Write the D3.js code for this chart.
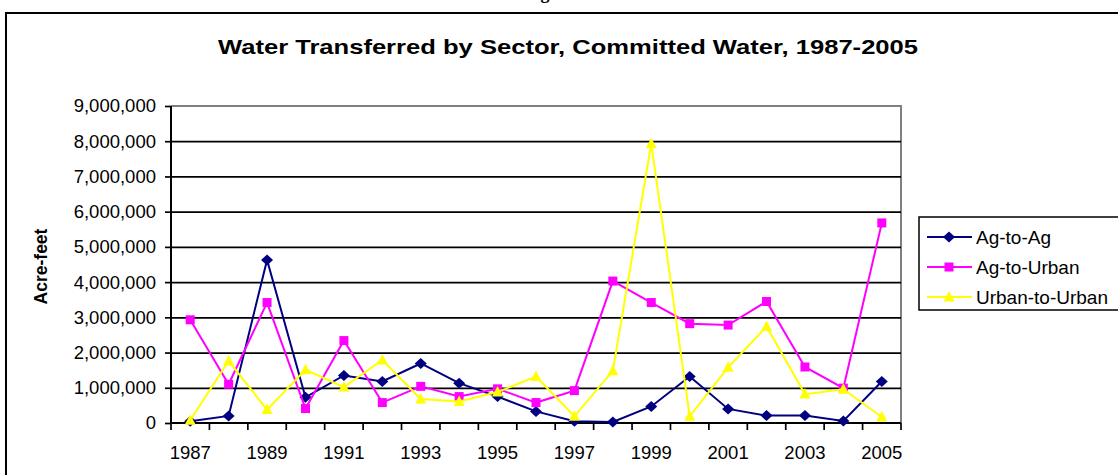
<!DOCTYPE html>
<html lang="en">
<head>
    <meta charset="UTF-8">
    <title>Water Transferred by Sector</title>
    <script src="https://d3js.org/d3.v7.min.js"></script>
    <style>
        body { margin: 0; background: white; }
        text { font-family: "Liberation Sans", Arial, sans-serif; }
    </style>
</head>
<body>
<script>

// years along the bottom
const years = [1987, 1988, 1989, 1990, 1991, 1992, 1993, 1994, 1995, 1996,
               1997, 1998, 1999, 2000, 2001, 2002, 2003, 2004, 2005];

// acre-feet
const agToAg = [50000, 200000, 4630000, 730000, 1350000, 1180000, 1690000, 1130000, 750000, 330000,
                50000, 30000, 470000, 1320000, 400000, 210000, 210000, 60000, 1180000];
const agToUrban = [2930000, 1100000, 3420000, 410000, 2340000, 580000, 1040000, 750000, 970000, 580000,
                   920000, 4030000, 3420000, 2820000, 2780000, 3450000, 1590000, 990000, 5680000];
const urbanToUrban = [80000, 1760000, 380000, 1510000, 1020000, 1790000, 680000, 610000, 880000, 1320000,
                      190000, 1480000, 7930000, 190000, 1580000, 2740000, 820000, 960000, 170000];

const yTicks = [0, 1000000, 2000000, 3000000, 4000000, 5000000, 6000000, 7000000, 8000000, 9000000];
const xLabelYears = [1987, 1989, 1991, 1993, 1995, 1997, 1999, 2001, 2003, 2005];

const seriesNames = ["Ag-to-Ag", "Ag-to-Urban", "Urban-to-Urban"];
const seriesColors = ["#000080", "#FF00FF", "#FFFF00"];
const seriesValues = [agToAg, agToUrban, urbanToUrban];

// excel style markers: wide diamond, square, triangle
function marker(s) {
    if (s === 0) return "M0,-5.5L6,0L0,5.5L-6,0Z";
    if (s === 1) return "M-4.5,-4.5H4.5V4.5H-4.5Z";
    return "M0,-6L5.5,4.5H-5.5Z";
}

const W = 1118, H = 475;
const plot = {left: 171, right: 901, top: 106, bottom: 423};

var svg = d3.select("body")
    .append("svg")
    .attr("width", W)
    .attr("height", H);

// piece of the figure caption above, cut off by the picture
svg.append("text")
    .attr("x", 545)
    .attr("y", -1)
    .attr("text-anchor", "middle")
    .style("font-family", "Liberation Serif, Times New Roman, serif")
    .style("font-weight", "bold")
    .style("font-size", "18px")
    .text("g");

// chart frame
svg.append("rect")
    .attr("x", 6)
    .attr("y", 13)
    .attr("width", W + 20)
    .attr("height", H + 20)
    .attr("fill", "white")
    .attr("stroke", "black")
    .attr("stroke-width", 2);

svg.append("text")
    .attr("x", 218)
    .attr("y", 54)
    .attr("textLength", 700)
    .attr("lengthAdjust", "spacingAndGlyphs")
    .style("font-weight", "bold")
    .style("font-size", "21px")
    .text("Water Transferred by Sector, Committed Water, 1987-2005");

var x = d3.scaleBand()
    .domain(years)
    .range([plot.left, plot.right])
    .padding(0);

var y = d3.scaleLinear()
    .domain([0, 9000000])
    .range([plot.bottom, plot.top]);

// plot area border (grey on top and right)
svg.append("path")
    .attr("d", `M${plot.left},${plot.top}H${plot.right}V${plot.bottom}`)
    .attr("fill", "none")
    .attr("stroke", "#808080")
    .attr("stroke-width", 2);

// gridlines
svg.append("g")
    .attr("transform", `translate(${plot.left},0)`)
    .call(d3.axisLeft(y).tickValues(yTicks.slice(1, -1)).tickSize(-(plot.right - plot.left)).tickFormat(""))
    .call(g => g.select(".domain").remove())
    .call(g => g.selectAll("line").attr("stroke", "black").attr("stroke-width", 1.7));

// y axis
svg.append("g")
    .attr("transform", `translate(${plot.left},0)`)
    .call(d3.axisLeft(y).tickValues(yTicks).tickSize(6).tickPadding(9).tickFormat(d3.format(",")))
    .call(g => g.select(".domain").attr("stroke-width", 2).attr("d", `M0,${plot.top}V${plot.bottom}`))
    .call(g => g.selectAll("line").attr("stroke-width", 1.7))
    .call(g => g.selectAll("text").style("font-size", "18.5px").attr("fill", "black"));

svg.append("text")
    .attr("transform", `translate(47,${(plot.top + plot.bottom) / 2 + 2}) rotate(-90)`)
    .attr("text-anchor", "middle")
    .style("font-weight", "bold")
    .style("font-size", "17.5px")
    .text("Acre-feet");

// x axis: tick marks between the categories, labels on every other year
var xAxis = svg.append("g")
    .attr("transform", `translate(0,${plot.bottom})`);

xAxis.append("line")
    .attr("x1", plot.left).attr("x2", plot.right)
    .attr("stroke", "black").attr("stroke-width", 2);

xAxis.selectAll(".xtick")
    .data(years.concat([null]))
    .enter()
    .append("line")
    .attr("class", "xtick")
    .attr("x1", d => d === null ? plot.right : x(d))
    .attr("x2", d => d === null ? plot.right : x(d))
    .attr("y1", 0).attr("y2", 7)
    .attr("stroke", "black").attr("stroke-width", 1.7);

xAxis.selectAll(".xlabel")
    .data(xLabelYears)
    .enter()
    .append("text")
    .attr("class", "xlabel")
    .attr("x", d => x(d) + x.bandwidth() / 2)
    .attr("y", 36)
    .attr("text-anchor", "middle")
    .style("font-size", "18.5px")
    .text(d => d);

// the three series
var line = d3.line()
    .x((d, i) => x(years[i]) + x.bandwidth() / 2)
    .y(d => y(d));

seriesValues.forEach(function (vals, s) {
    svg.append("path")
        .datum(vals)
        .attr("d", line)
        .attr("fill", "none")
        .attr("stroke", seriesColors[s])
        .attr("stroke-width", 2);

    svg.selectAll(".pt" + s)
        .data(vals)
        .enter()
        .append("path")
        .attr("class", "pt" + s)
        .attr("transform", (d, i) => `translate(${x(years[i]) + x.bandwidth() / 2},${y(d)})`)
        .attr("d", marker(s))
        .attr("fill", seriesColors[s]);
});

// legend
var legend = svg.append("g")
    .attr("transform", "translate(919,217)");

legend.append("rect")
    .attr("width", 240)
    .attr("height", 93)
    .attr("fill", "white")
    .attr("stroke", "black")
    .attr("stroke-width", 1.5);

var items = legend.selectAll(".legend-item")
    .data(seriesNames)
    .enter()
    .append("g")
    .attr("class", "legend-item")
    .attr("transform", (d, i) => `translate(0,${20 + i * 30})`);

items.append("line")
    .attr("x1", 8).attr("x2", 53)
    .attr("stroke", (d, i) => seriesColors[i])
    .attr("stroke-width", 2);

items.append("path")
    .attr("transform", "translate(30,0)")
    .attr("d", (d, i) => marker(i))
    .attr("fill", (d, i) => seriesColors[i]);

items.append("text")
    .attr("x", 57)
    .attr("y", 7)
    .style("font-size", "19px")
    .text(d => d);

</script>
</body>
</html>
